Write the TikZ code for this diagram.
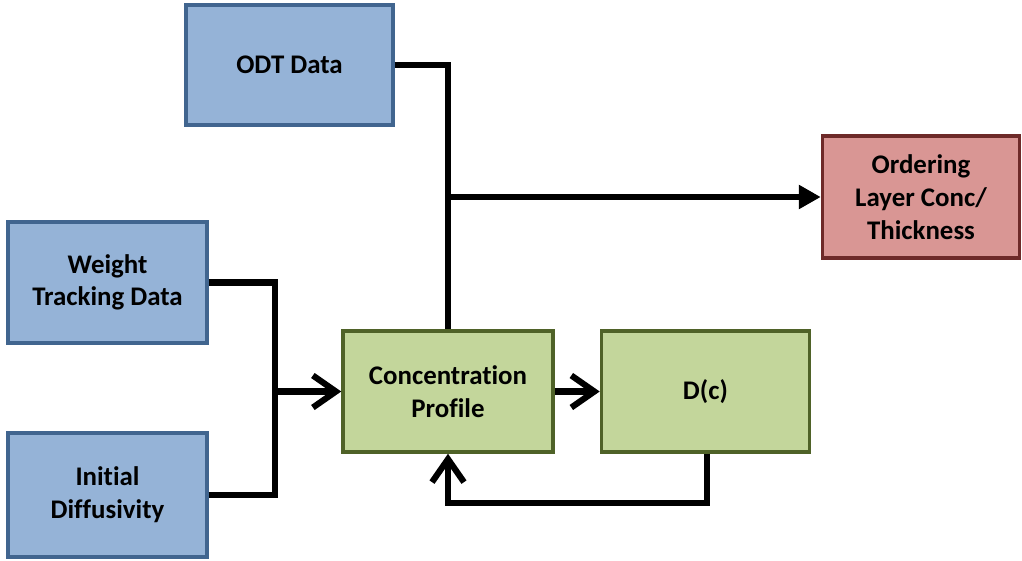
\documentclass[tikz,border=0pt]{standalone}
\usepackage{fontspec}
\setmainfont{Carlito}[Ligatures=NoCommon]
\usepackage{tikz}
\usetikzlibrary{calc,arrows.meta,positioning}
\definecolor{inblue}{HTML}{95B3D7}
\definecolor{inblueedge}{HTML}{41658F}
\definecolor{procgreen}{HTML}{C3D69B}
\definecolor{procgreenedge}{HTML}{4F6228}
\definecolor{outred}{HTML}{D99694}
\definecolor{outrededge}{HTML}{6E2A29}
\tikzset{
  block/.style={draw, line width=2pt, align=center, minimum height=2.42cm,
    font=\fontsize{15.3}{18.6}\selectfont\bfseries, inner sep=3pt},
  inblock/.style={block, fill=inblue, draw=inblueedge},
  procblock/.style={block, fill=procgreen, draw=procgreenedge, minimum width=4.2cm},
  outblock/.style={block, fill=outred, draw=outrededge, minimum width=3.94cm},
  conn/.style={line width=3.5pt, line join=miter},
  arr/.style={conn, -{Straight Barb[length=4.6mm,width=6.4mm]}},
  farr/.style={conn, -{Triangle[length=4.4mm,width=4.6mm]}}
}

\begin{document}
\begin{tikzpicture}[x=0.02cm, y=-0.02cm]
  \useasboundingbox (0,0) rectangle (1022,561);

  \node[inblock, minimum width=4.14cm, minimum height=2.4cm] (odt) at (289.5,65) {ODT Data};
  \node[inblock, minimum width=3.98cm] (wtrack) at (107.5,282.5) {Weight\\Tracking Data};
  \node[inblock, minimum width=3.98cm, minimum height=2.48cm] (initd) at (107.5,495) {Initial\\Diffusivity};

  \node[procblock] (prof) at (448,391.5) {Concentration\\Profile};
  \node[procblock, right=0.9cm of prof, minimum width=4.16cm] (dc) {D(c)};

  \node[outblock, minimum height=2.44cm] (order) at (921,197) {Ordering\\Layer Conc/\\Thickness};

  \coordinate (join) at (275,391.5);
  \coordinate (loop) at (707,503);

  \draw[conn] (odt.east) -| (prof.north);
  \draw[farr] (prof.north |- order.west) -- (order.west);

  \draw[conn] (wtrack.east) -| (join);
  \draw[conn] (initd.east) -| (join);
  \draw[arr] (join) -- (prof.west);

  \draw[arr] (prof.east) -- (dc.west);
  \draw[arr] (dc.south -| loop) -- (loop) -| (prof.south);
\end{tikzpicture}
\end{document}
